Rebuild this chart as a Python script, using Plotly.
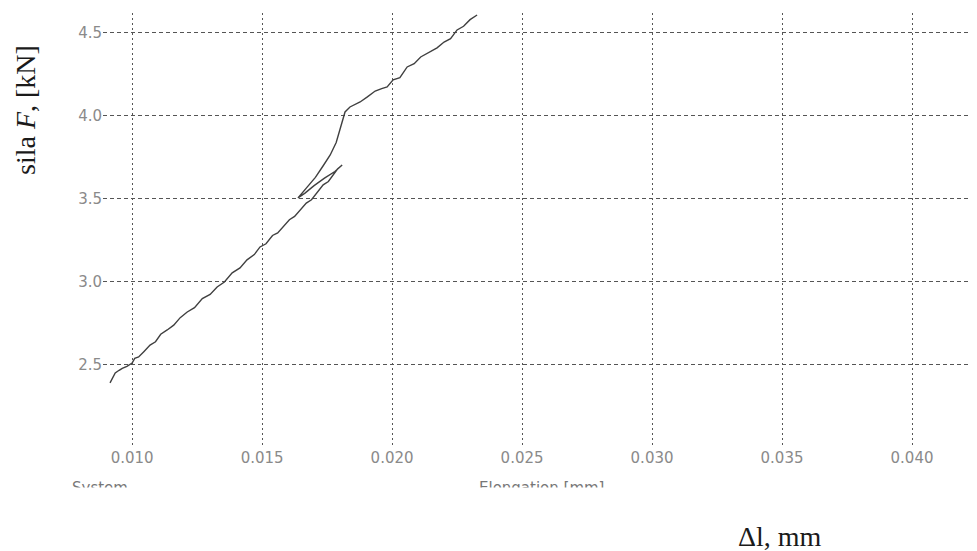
import plotly.graph_objects as go

# Elongation (mm) and force (kN)
elong = [0.00915, 0.00925, 0.00935, 0.00950, 0.00962, 0.00980, 0.01000, 0.01010,
         0.01025, 0.01045, 0.01069, 0.01090, 0.01110, 0.01135, 0.01160, 0.01185,
         0.01212, 0.01240, 0.01270, 0.01300, 0.01327, 0.01355, 0.01385, 0.01415,
         0.01442, 0.01470, 0.01492, 0.01515, 0.01540, 0.01560, 0.01581, 0.01605,
         0.01625, 0.01646, 0.01670, 0.01690, 0.01712, 0.01735, 0.01755, 0.01769,
         0.01790, 0.01808, 0.01780, 0.01740, 0.01700, 0.01665, 0.01638, 0.01670,
         0.01705, 0.01735, 0.01762, 0.01785, 0.01800, 0.01819, 0.01838, 0.01860,
         0.01877, 0.01905, 0.01935, 0.01960, 0.01981, 0.02004, 0.02030, 0.02058,
         0.02085, 0.02110, 0.02140, 0.02173, 0.02200, 0.02225, 0.02250, 0.02275,
         0.02300, 0.02327]
force = [2.392, 2.425, 2.452, 2.468, 2.480, 2.492, 2.512, 2.540,
         2.548, 2.580, 2.620, 2.640, 2.685, 2.711, 2.740, 2.785,
         2.819, 2.845, 2.900, 2.925, 2.970, 3.000, 3.055, 3.085,
         3.133, 3.165, 3.211, 3.230, 3.280, 3.295, 3.331, 3.375,
         3.395, 3.434, 3.475, 3.495, 3.536, 3.585, 3.605, 3.633,
         3.680, 3.705, 3.665, 3.625, 3.580, 3.535, 3.506, 3.565,
         3.630, 3.700, 3.765, 3.840, 3.916, 4.024, 4.054, 4.070,
         4.084, 4.115, 4.150, 4.165, 4.175, 4.217, 4.230, 4.295,
         4.315, 4.355, 4.380, 4.410, 4.445, 4.465, 4.518, 4.540,
         4.580, 4.608]

x_ticks = [0.010, 0.015, 0.020, 0.025, 0.030, 0.035, 0.040]
x_tick_labels = ["0.010", "0.015", "0.020", "0.025", "0.030", "0.035", "0.040"]
y_ticks = [2.5, 3.0, 3.5, 4.0, 4.5]
y_tick_labels = ["2.5", "3.0", "3.5", "4.0", "4.5"]

fig = go.Figure()
fig.add_trace(go.Scatter(x=elong, y=force, mode="lines",
                         line=dict(color="#404040", width=1.4),
                         showlegend=False, hoverinfo="skip"))

tickfont = dict(family="DejaVu Sans, sans-serif", size=15, color="#8a8a8a")
fig.update_xaxes(range=[0.00888, 0.0425], tickvals=x_ticks, ticktext=x_tick_labels,
                 showgrid=True, gridcolor="#555555", gridwidth=1.4, griddash="2px,3px",
                 zeroline=False, showline=False, ticks="", tickfont=tickfont)
fig.update_yaxes(range=[2.006, 4.620], tickvals=y_ticks, ticktext=y_tick_labels,
                 showgrid=True, gridcolor="#555555", gridwidth=1.4, griddash="4px,3px",
                 zeroline=False, showline=False, ticks="", tickfont=tickfont,
                 ticklabelstandoff=0)

serif = "Liberation Serif, Times New Roman, serif"
annotations = [
    dict(text="sila <i>F</i>, [kN]", xref="paper", yref="paper",
         x=(26 - 103) / 874, y=(434 - (110 - 13)) / 434, textangle=-90,
         showarrow=False, xanchor="center", yanchor="middle",
         font=dict(family=serif, size=28, color="#1a1a1a")),
    dict(text="Δl, mm", xref="paper", yref="paper",
         x=(780 - 103) / 874, y=-(536 - 447) / 434, showarrow=False,
         xanchor="center", yanchor="middle",
         font=dict(family=serif, size=28, color="#1a1a1a")),
    dict(text="System", xref="paper", yref="paper",
         x=(70 - 103) / 874, y=-(488 - 447) / 434, showarrow=False,
         xanchor="left", yanchor="middle",
         font=dict(family="DejaVu Sans, sans-serif", size=15, color="#777777")),
    dict(text="Elongation [mm]", xref="paper", yref="paper",
         x=(477 - 103) / 874, y=-(488 - 447) / 434, showarrow=False,
         xanchor="left", yanchor="middle",
         font=dict(family="DejaVu Sans, sans-serif", size=15, color="#777777")),
    # white cover hiding the lower part of the truncated labels
    dict(text=" ", xref="paper", yref="paper",
         x=(40 - 103) / 874, y=-(487 - 447) / 434, showarrow=False,
         xanchor="left", yanchor="top", width=700, height=24,
         bgcolor="white", font=dict(size=12)),
]
# the page body adds an 8px offset, so the figure is 8px smaller on each axis
fig.update_layout(width=969, height=543, margin=dict(l=95, r=0, t=5, b=104),
                  plot_bgcolor="white", paper_bgcolor="white",
                  annotations=annotations)

fig.write_html("out.html")
